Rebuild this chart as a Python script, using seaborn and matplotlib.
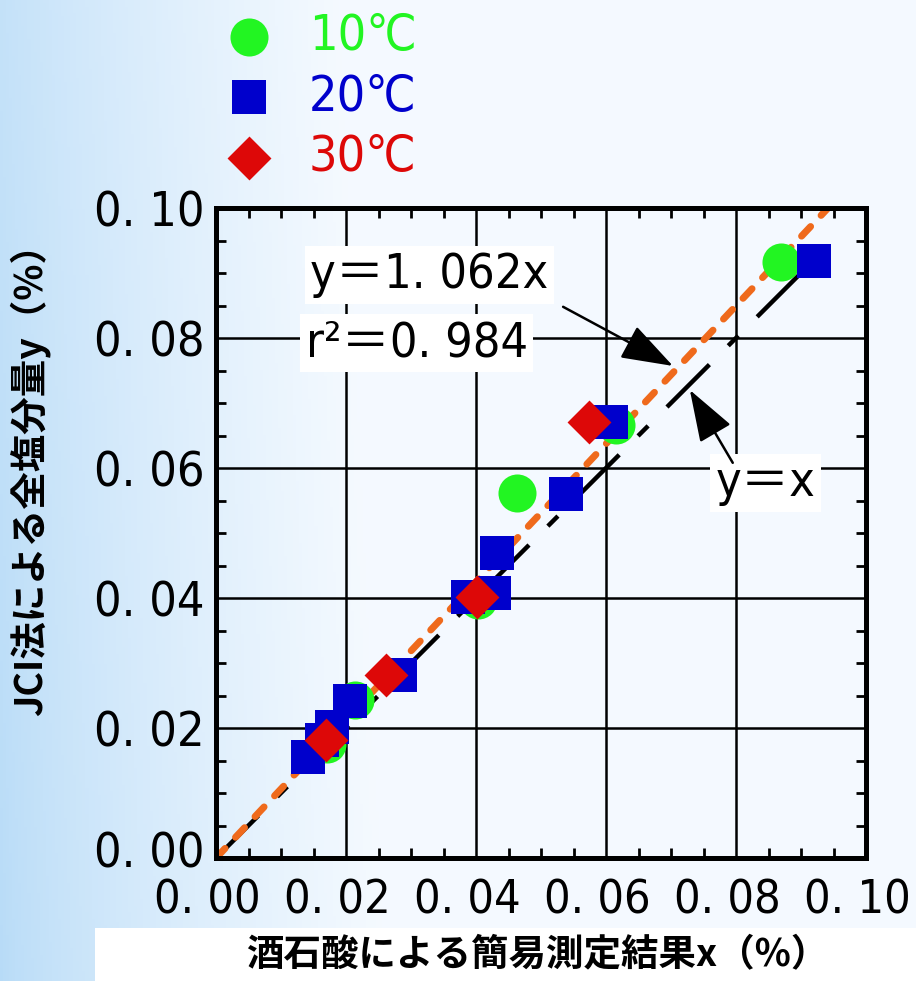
import numpy as np
import matplotlib.pyplot as plt
import seaborn as sns
from matplotlib import font_manager
from matplotlib.patches import Rectangle
from matplotlib.ticker import MultipleLocator
from matplotlib.transforms import ScaledTranslation

# valores
x10 = [0.0170, 0.0214, 0.0403, 0.0463, 0.0615, 0.0869]
y10 = [0.0176, 0.0243, 0.0397, 0.0561, 0.0666, 0.0917]
x20 = [0.0142, 0.0163, 0.0179, 0.0206, 0.0283, 0.0387, 0.0428, 0.0432, 0.0539, 0.0607, 0.0920]
y20 = [0.0155, 0.0182, 0.0202, 0.0242, 0.0282, 0.0402, 0.0408, 0.0469, 0.0560, 0.0671, 0.0918]
x30 = [0.0169, 0.0262, 0.0402, 0.0574]
y30 = [0.0182, 0.0282, 0.0402, 0.0671]
temps = ["10℃", "20℃", "30℃"]
slope = 1.062
r2 = 0.984
ident_end = 0.0955
ticks = [0.00, 0.02, 0.04, 0.06, 0.08, 0.10]
tick_labels = ["0. 00", "0. 02", "0. 04", "0. 06", "0. 08", "0. 10"]
xlabel = "酒石酸による簡易測定結果x（%）"
ylabel = "JCI法による全塩分量y（%）"

# buscar una fuente estrecha (si la hay) para los numeros
num_font, num_stretch, num_scale = "Liberation Sans", "normal", 1.0
for f in font_manager.fontManager.ttflist:
    low = f.fname.lower()
    if f.style == "normal" and f.weight in (400, "normal", "regular") and (
            "narrow" in low or "condensed" in low) and "mono" not in low and "serif" not in low:
        num_font, num_stretch, num_scale = f.name, f.stretch, 1.2
        break
jp = "Noto Sans CJK JP"
plt.rcParams["font.family"] = [num_font, jp, "DejaVu Sans"]
plt.rcParams["font.stretch"] = num_stretch

W, H = 916, 981
fig = plt.figure(figsize=(W / 100, H / 100), dpi=100)

# fondo degradado azul claro
bg = fig.add_axes([0, 0, 1, 1], zorder=-10)
gx, gy = np.meshgrid(np.linspace(0, 1, 300), np.linspace(0, 1, 300))
t = np.clip(gx / 0.42 + 0.12 * gy, 0, 1) ** 0.75
c_left = np.array([0.72, 0.86, 0.97])
c_right = np.array([0.96, 0.98, 1.0])
img = c_left * (1 - t[..., None]) + c_right * t[..., None]
bg.imshow(img, extent=[0, 1, 0, 1], aspect="auto", origin="lower")
bg.axis("off")

fig.add_artist(Rectangle((95 / W, 0), 1 - 95 / W, 53 / H, transform=fig.transFigure,
                         fc="white", ec="none", zorder=-5))

ax = fig.add_axes([216 / W, 1 - 858 / H, 650 / W, 650 / H])
ax.set_facecolor("none")

# lineas y=x y ajuste
xi = np.array([0, ident_end])
ax.plot(xi, xi, color="black", lw=3.2, linestyle=(0, (13.5, 6.0, 3.2, 6.0)), zorder=2)
xf = np.array([0, 0.1 / slope])
ax.plot(xf, slope * xf, color="#EF6A1C", lw=5.0, linestyle=(0, (1.9, 2.2)),
        dash_capstyle="round", zorder=2.5)

sns.scatterplot(x=x10, y=y10, marker="o", s=750, color="#22F522", linewidth=0,
                label=temps[0], ax=ax, zorder=3)
sns.scatterplot(x=x20, y=y20, marker="s", s=635, color="#0000CC", linewidth=0,
                label=temps[1], ax=ax, zorder=4)
sns.scatterplot(x=x30, y=y30, marker="D", s=500, color="#DD0808", linewidth=0,
                label=temps[2], ax=ax, zorder=5)

ax.set_xlim(0, 0.1)
ax.set_ylim(0, 0.1)
ax.set_xticks(ticks, tick_labels)
ax.set_yticks(ticks, tick_labels)
ax.xaxis.set_minor_locator(MultipleLocator(0.005))
ax.yaxis.set_minor_locator(MultipleLocator(0.005))
ax.tick_params(which="both", direction="in", top=True, right=True, color="black")
ax.tick_params(which="major", length=0)
ax.tick_params(axis="x", which="major", pad=15, labelsize=28 * num_scale)
ax.tick_params(axis="y", which="major", pad=8, labelsize=29 * num_scale)
ax.tick_params(which="minor", length=7, width=2)
ax.grid(True, which="major", color="black", lw=1.8)
ax.set_axisbelow(True)
for sp in ax.spines.values():
    sp.set_linewidth(3.6)
    sp.set_color("black")
    sp.set_zorder(6)
ax.set_xlabel("")
ax.set_ylabel("")
# las etiquetas del eje x van un poco a la izquierda, como en el original
shift = ScaledTranslation(-9 / 100, 0, fig.dpi_scale_trans)
for lab in ax.get_xticklabels():
    lab.set_transform(lab.get_transform() + shift)
# el "0. 00" del eje y queda algo por encima del eje
low_lab = ax.get_yticklabels()[0]
low_lab.set_transform(low_lab.get_transform() + ScaledTranslation(0, 9 / 100, fig.dpi_scale_trans))

# ecuaciones y flechas
box = dict(fc="white", ec="none", pad=4)
eq_size = 29 * num_scale
ax.text(0.0145, 0.0897, f"y＝{slope:.3f}x".replace(".", ". "), size=eq_size, ha="left",
        va="center", bbox=box, zorder=7)
ax.text(0.0138, 0.0792, f"r²＝{r2:.3f}".replace(".", ". "), size=eq_size, ha="left",
        va="center", bbox=box, zorder=7)
ax.text(0.0845, 0.0577, "y＝x", size=eq_size, ha="center", va="center", bbox=box, zorder=7)
arrow = dict(arrowstyle="-|>,head_length=1.3,head_width=0.45", color="black", lw=1.8,
             mutation_scale=25, shrinkA=0, shrinkB=0)
ax.annotate("", xy=(0.0703, 0.0757), xytext=(0.0534, 0.0848), arrowprops=arrow, zorder=7)
ax.annotate("", xy=(0.0729, 0.0720), xytext=(0.0795, 0.0608), arrowprops=arrow, zorder=7)

# leyenda
handles, labels = ax.get_legend_handles_labels()
if ax.get_legend() is not None:
    ax.get_legend().remove()
fig.legend(handles, labels, loc="upper left", bbox_to_anchor=(229 / W, 1 - 12 / H),
           frameon=False, prop=dict(family=[num_font, jp], size=36, stretch=num_stretch),
           labelcolor=["#22F522", "#0000CC", "#DD0808"], handlelength=0.8,
           handletextpad=0.8, labelspacing=0.25, borderpad=0, borderaxespad=0,
           scatterpoints=1)

fig.text(537 / W, 1 - 955 / H, xlabel, family=[jp], weight="bold", size=27,
         ha="center", va="center")
fig.text(30 / W, 1 - 470 / H, ylabel, family=[jp], weight="bold", size=27,
         rotation=90, ha="center", va="center")

fig.savefig("out.png", dpi=100)
